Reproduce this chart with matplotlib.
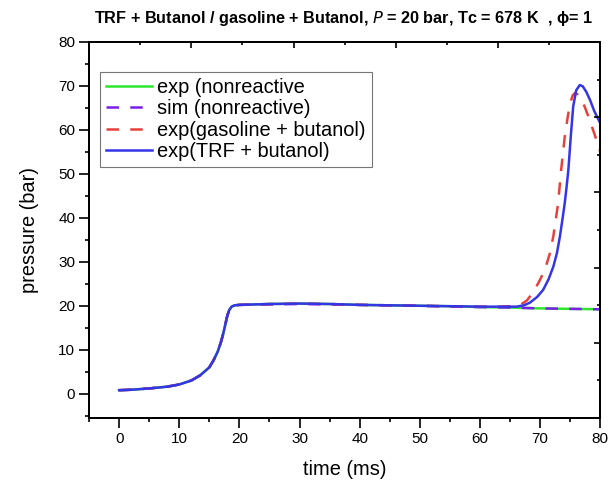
import numpy as np
import matplotlib.pyplot as plt

plt.rcParams['font.family'] = ['Liberation Sans', 'DejaVu Sans']

# Nonreactive compression trace (ms, bar)
t_nr = [0, 2, 5, 8, 10, 12, 13.5, 15, 15.7, 16.4, 16.9, 17.3, 17.7, 18.0, 18.3, 18.7, 19.2, 20,
        25, 30, 35, 40, 45, 50, 55, 60, 65, 70, 75, 80]
p_exp_nr = [0.8, 0.9, 1.2, 1.6, 2.1, 3.0, 4.2, 6.0, 7.6, 9.6, 11.6, 13.6, 16.0, 17.8, 19.0, 19.8, 20.1, 20.2,
            20.4, 20.5, 20.4, 20.2, 20.1, 20.0, 19.9, 19.7, 19.6, 19.4, 19.3, 19.2]
p_sim_nr = [0.8, 0.9, 1.2, 1.6, 2.1, 3.0, 4.2, 6.0, 7.6, 9.6, 11.6, 13.6, 16.0, 17.8, 19.0, 19.8, 20.1, 20.2,
            20.3, 20.4, 20.3, 20.2, 20.1, 20.0, 19.8, 19.7, 19.6, 19.4, 19.3, 19.2]

# Reactive traces
t_gas = [0, 2, 5, 8, 10, 12, 13.5, 15, 15.7, 16.4, 16.9, 17.3, 17.7, 18.0, 18.3, 18.7, 19.2, 20,
         25, 30, 35, 40, 45, 50, 55, 60, 63, 65, 66.7, 67.8, 68.8, 69.8, 70.8, 71.6, 72.2, 72.6, 73.0,
         73.5, 74.1, 74.6, 75.0, 75.4, 75.8, 76.3, 76.9, 77.4, 78.1, 78.8, 79.4, 80]
p_gas = [0.8, 0.9, 1.2, 1.6, 2.1, 3.0, 4.2, 6.0, 7.6, 9.6, 11.6, 13.6, 16.0, 17.8, 19.0, 19.8, 20.1, 20.2,
         20.4, 20.5, 20.4, 20.2, 20.1, 20.0, 19.9, 19.8, 19.8, 19.9, 20.2, 21.2, 23.0, 25.4, 28.2, 31.8, 35.8,
         39.5, 43.4, 50.9, 58.5, 63.0, 66.0, 67.8, 68.4, 68.0, 66.8, 65.3, 62.8, 60.0, 57.6, 55.0]
t_trf = [0, 2, 5, 8, 10, 12, 13.5, 15, 15.7, 16.4, 16.9, 17.3, 17.7, 18.0, 18.3, 18.7, 19.2, 20,
         25, 30, 35, 40, 45, 50, 55, 60, 63, 66.1, 67.3, 68.3, 69.5, 70.5, 71.4, 72.2, 72.8, 73.3, 73.7,
         74.1, 74.4, 74.7, 75.1, 75.5, 76.0, 76.6, 77.1, 77.7, 78.3, 79.0, 79.5, 80]
p_trf = [0.8, 0.9, 1.2, 1.6, 2.1, 3.0, 4.2, 6.0, 7.6, 9.6, 11.6, 13.6, 16.0, 17.8, 19.0, 19.8, 20.1, 20.2,
         20.4, 20.5, 20.4, 20.2, 20.1, 20.0, 19.9, 19.8, 19.8, 19.8, 20.1, 20.7, 22.0, 23.6, 26.0, 28.9, 32.0,
         35.8, 39.5, 43.4, 47.0, 50.9, 58.5, 65.3, 69.0, 70.2, 69.9, 68.6, 66.8, 64.3, 62.9, 61.5]

fig = plt.figure(figsize=(6.1, 4.82), dpi=100)
ax = fig.add_axes([0.146, 0.133, 0.838, 0.780])

lw = 1.8
dash = (0, (5, 4.5))
ax.plot(t_nr, p_exp_nr, color='#2ee62e', lw=lw, label='exp (nonreactive')
ax.plot(t_nr, p_sim_nr, color='#7a1ee8', lw=lw, ls=dash, label='sim (nonreactive)')
ax.plot(t_gas, p_gas, color='#e8403c', lw=lw, ls=dash, label='exp(gasoline + butanol)')
ax.plot(t_trf, p_trf, color='#3535e8', lw=lw, label='exp(TRF + butanol)')

ax.set_xlim(-5, 80)
ax.set_ylim(-5.5, 80)
ax.set_xticks(np.arange(0, 81, 10))
ax.set_xticks(np.arange(-5, 81, 5), minor=True)
ax.set_yticks(np.arange(0, 81, 10))
ax.set_yticks(np.arange(-5, 81, 5), minor=True)
for s in ax.spines.values():
    s.set_linewidth(1.2)
ax.tick_params(which='major', direction='out', length=7, width=1.2, labelsize=11, pad=3)
ax.tick_params(which='minor', direction='out', length=3, width=1.2)

# top and right frame ticks (independent divisions, no labels)
axt = ax.twiny()
axt.set_xlim(0, 1)
axt.set_xticks(np.linspace(0, 1, 6))
axt.set_xticks(np.linspace(0, 1, 11), minor=True)
axt.tick_params(which='major', direction='in', length=4, width=1.2, labeltop=False)
axt.tick_params(which='minor', direction='in', length=2, width=1.2)
axr = ax.twinx()
axr.set_ylim(0, 1)
axr.set_yticks(np.linspace(0, 1, 6))
axr.set_yticks(np.linspace(0, 1, 11), minor=True)
axr.tick_params(which='major', direction='in', length=4, width=1.2, labelright=False)
axr.tick_params(which='minor', direction='in', length=2, width=1.2)
for a in (axt, axr):
    for s in a.spines.values():
        s.set_linewidth(1.2)

ax.set_xlabel('time (ms)', fontsize=14.4, labelpad=10)
ax.set_ylabel('pressure (bar)', fontsize=14.4, labelpad=14)
fig.text(0.5625, 0.962, 'TRF + Butanol / gasoline + Butanol, $\\it{P}$ = 20 bar, Tc = 678 K  , ϕ= 1',
         fontsize=11.7, fontweight='bold', ha='center', va='center')

leg = ax.legend(loc='upper left', bbox_to_anchor=(0.0215, 0.92), fontsize=14.4, frameon=True,
                fancybox=False, handlelength=2.3, handletextpad=0.25, borderpad=0.3,
                labelspacing=0.12, borderaxespad=0)
leg.get_frame().set_edgecolor('#555555')
leg.get_frame().set_linewidth(0.8)

fig.savefig('out.png', dpi=100)
